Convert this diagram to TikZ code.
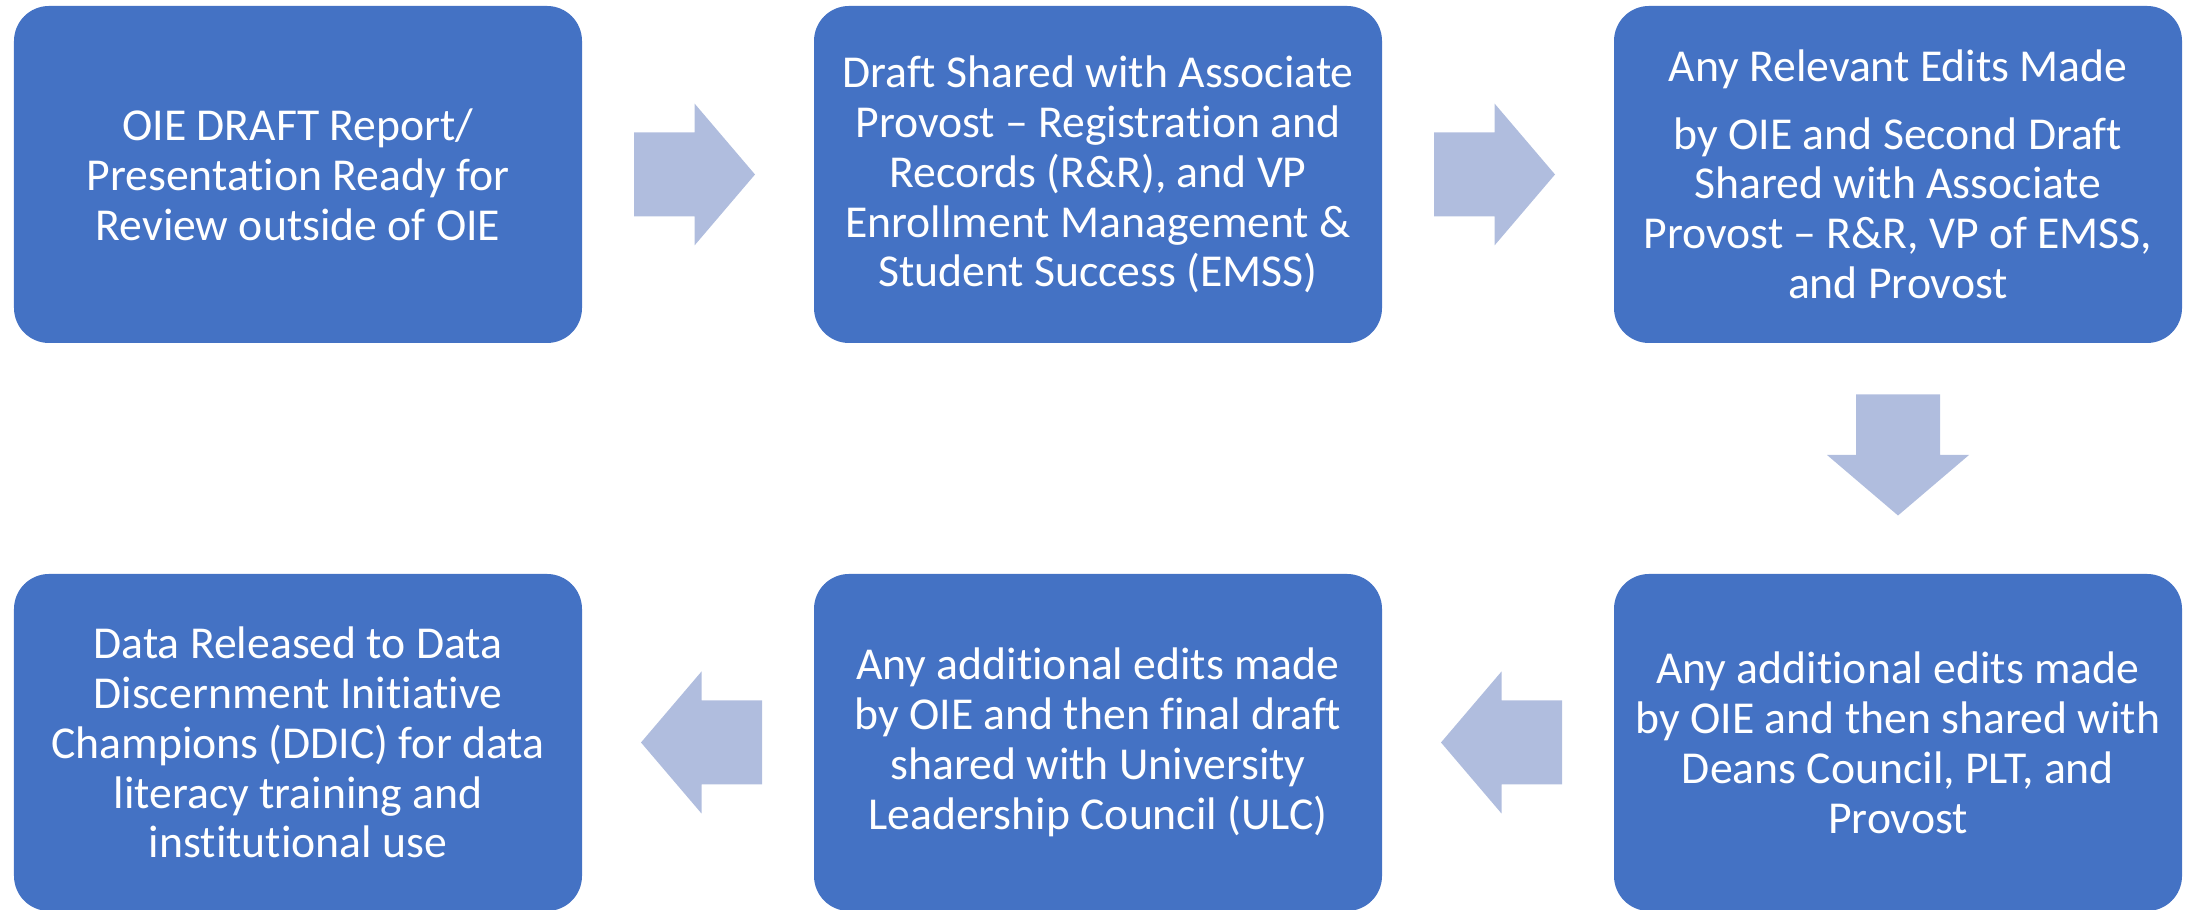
\documentclass[tikz,border=0pt]{standalone}
\usepackage{tikz}
\usepackage{xcolor}
\usepackage{fontspec}
\setmainfont[Ligatures={NoCommon,NoContextual},Contextuals=NoAlternate]{Carlito}
\usetikzlibrary{calc}

\definecolor{boxblue}{RGB}{68,114,196}
\definecolor{arrowblue}{RGB}{176,189,222}

\begin{document}
\begin{tikzpicture}[
	stepbox/.style={rectangle, rounded corners=3.5mm, fill=boxblue, text=white,
		minimum width=56.8mm, minimum height=33.7mm, inner sep=0pt, align=center,
		font=\fontsize{13}{14.2}\selectfont},
	]
	\useasboundingbox (0,0) rectangle (21.85,9.10);
	\clip (0,0) rectangle (21.85,9.10);

	% top row
	\node[stepbox] (s1) at (2.98,7.355) {OIE DRAFT Report/\\Presentation Ready for\\Review outside of OIE};
	\node[stepbox] (s2) at (10.98,7.355) {Draft Shared with Associate\\Provost – Registration and\\Records (R\&R), and VP\\Enrollment Management \&\\Student Success (EMSS)};
	\node[stepbox] (s3) at (18.98,7.355) {Any Relevant Edits Made\\[5pt]by OIE and Second Draft\\Shared with Associate\\Provost – R\&R, VP of EMSS,\\and Provost};

	% bottom row
	\node[stepbox] (s4) at (18.98,1.675) {Any additional edits made\\by OIE and then shared with\\Deans Council, PLT, and\\Provost};
	\node[stepbox] (s5) at (10.98,1.675) {Any additional edits made\\by OIE and then final draft\\shared with University\\Leadership Council (ULC)};
	\node[stepbox] (s6) at (2.98,1.675) {Data Released to Data\\Discernment Initiative\\Champions (DDIC) for data\\literacy training and\\institutional use};

	% block arrows between the steps
	\foreach \a/\b/\r in {s1/s2/0, s2/s3/0, s3/s4/-90, s4/s5/180, s5/s6/180}
	{
		\fill[arrowblue, shift={($(\a)!0.5!(\b)$)}, rotate=\r]
			(-0.64,-0.42) -- (-0.035,-0.42) -- (-0.035,-0.71) -- (0.57,0)
			-- (-0.035,0.71) -- (-0.035,0.42) -- (-0.64,0.42) -- cycle;
	}
\end{tikzpicture}
\end{document}
